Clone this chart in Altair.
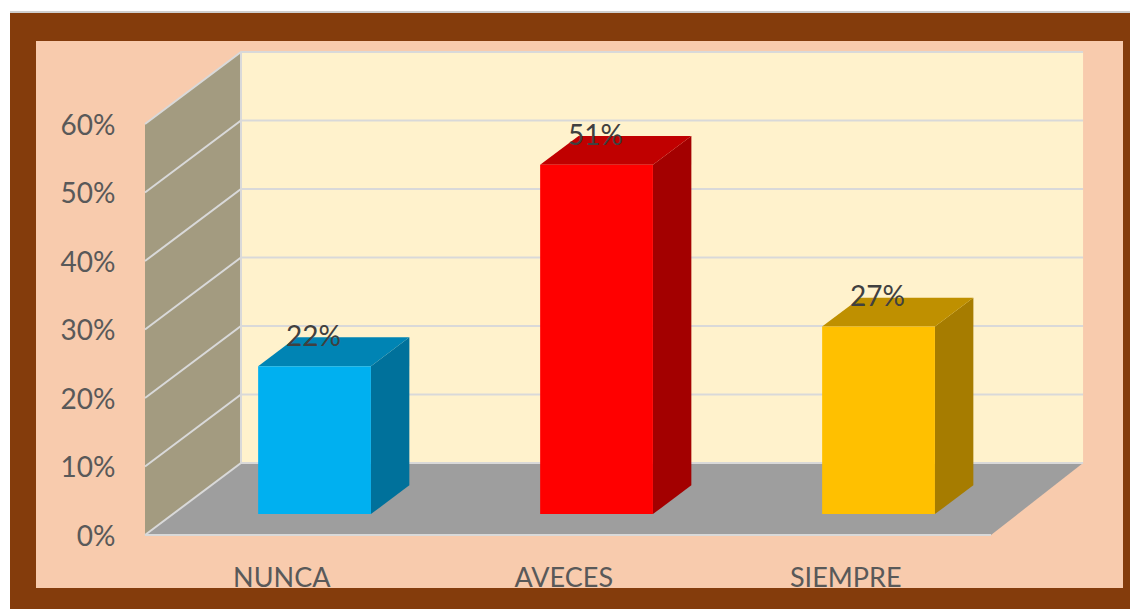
import altair as alt
import pandas as pd

categories = ["NUNCA", "AVECES", "SIEMPRE"]
values = [0.216, 0.51, 0.274]
front_colors = ["#00b0f0", "#ff0000", "#ffc000"]
side_colors = ["#00719b", "#a30000", "#a67c00"]
top_colors = ["#0084b4", "#c00000", "#bf9000"]
ticks = [0, 0.1, 0.2, 0.3, 0.4, 0.5, 0.6]

FONT = "Lato"
W, H = 1120, 601
X0, Y0 = 10, 8                     # plot origin on the page
DX, DY = 96 / 282, 72 / 685        # oblique projection of full depth, in scale units
BACK_W = 2.986                     # slightly narrower back wall
BAR_W, NEAR, FAR = 0.40, 0.29, 0.69
N = len(categories)
MAXV = ticks[-1]

xs = alt.Scale(domain=[0, 3], range=[145 - X0, 991 - X0], nice=False, zero=False)
ys = alt.Scale(domain=[0, MAXV], range=[535 - Y0, 124 - Y0], nice=False, zero=False)
y_axis = alt.Axis(
    values=ticks, format=".0%", title=None, domain=False, ticks=False, grid=False,
    labelFont=FONT, labelFontSize=28, labelColor="#595959", labelPadding=0, labelOffset=2,
    offset=-105, zindex=1)
X = lambda f="x": alt.X(f + ":Q", scale=xs, axis=None)
Y = lambda f="y": alt.Y(f + ":Q", scale=ys, axis=y_axis)
one = pd.DataFrame({"a": [0]})


def frame(x1, x2, y1, y2, color):
    return alt.Chart(one).mark_rect(color=color).encode(
        x=alt.value(x1 - X0), x2=alt.value(x2 - X0),
        y=alt.value(y1 - Y0), y2=alt.value(y2 - Y0))


outer_edge = frame(10, 1138, 11, 609, "#cfcfcf")
outer = frame(10, 1138, 13, 609, "#843c0c")
inner = frame(36, 1123, 41, 588, "#f8cbad")

back_wall = alt.Chart(pd.DataFrame({"x": [DX], "x2": [BACK_W + DX], "y": [DY], "y2": [MAXV + DY]})).mark_rect(
    color="#fff2cc").encode(x=X(), x2="x2:Q", y=Y(), y2="y2:Q")

left_wall = alt.Chart(pd.DataFrame({"x": [0, DX], "y": [0, DY], "y2": [MAXV, MAXV + DY]})).mark_area(
    color="#a39b80").encode(x=X(), y=Y(), y2="y2:Q")

floor = alt.Chart(pd.DataFrame({"y": [0, DY], "x": [0, DX], "x2": [N, BACK_W + DX]})).mark_area(
    color="#9e9e9e", orient="horizontal").encode(y=Y(), x=X(), x2="x2:Q")

grid_rows = []
for t in ticks:
    for order, (gx, gy) in enumerate([(0, t), (DX, t + DY), (BACK_W + DX, t + DY)]):
        grid_rows.append({"g": f"t{t}", "o": order, "x": gx, "y": gy})
for order, (gx, gy) in enumerate([(DX, DY), (DX, MAXV + DY)]):
    grid_rows.append({"g": "edge", "o": order, "x": gx, "y": gy})
for order, (gx, gy) in enumerate([(0, 0), (N, 0)]):
    grid_rows.append({"g": "front", "o": order, "x": gx, "y": gy})
grid = alt.Chart(pd.DataFrame(grid_rows)).mark_line(color="#d9d9d9", strokeWidth=2).encode(
    x=X(), y=Y(), detail="g:N", order="o:Q")

front_rows, side_rows, top_rows, label_rows = [], [], [], []
for i, (cat, v) in enumerate(zip(categories, values)):
    xl = i + 0.5025 - BAR_W / 2 + NEAR * DX
    xr = xl + BAR_W
    base, top = NEAR * DY, v + NEAR * DY
    d = FAR - NEAR
    front_rows.append({"x": xl, "x2": xr, "y": base, "y2": top, "c": front_colors[i]})
    for t in (0, d):
        side_rows.append({"x": xr + t * DX, "y": base + t * DY, "y2": top + t * DY, "c": side_colors[i]})
        top_rows.append({"y": top + t * DY, "x": xl + t * DX, "x2": xr + t * DX, "c": top_colors[i]})
    label_rows.append({"x": (xl + xr) / 2, "y": top, "v": v})

colour = alt.Color("c:N", scale=None, legend=None)
fronts = alt.Chart(pd.DataFrame(front_rows)).mark_rect().encode(x=X(), x2="x2:Q", y=Y(), y2="y2:Q", color=colour)
sides = alt.Chart(pd.DataFrame(side_rows)).mark_area().encode(x=X(), y=Y(), y2="y2:Q", color=colour)
tops = alt.Chart(pd.DataFrame(top_rows)).mark_area(orient="horizontal").encode(y=Y(), x=X(), x2="x2:Q", color=colour)

labels = alt.Chart(pd.DataFrame(label_rows)).mark_text(
    font=FONT, fontSize=28, color="#404040", baseline="middle", dy=-28, dx=-1).encode(
    x=X(), y=Y(), text=alt.Text("v:Q", format=".0%"))

cat_labels = alt.Chart(pd.DataFrame({"x": [i + 0.485 for i in range(N)], "t": categories})).mark_text(
    font=FONT, fontSize=27, color="#595959", baseline="alphabetic").encode(
    x=X(), y=alt.value(587 - Y0), text="t:N")

chart = alt.layer(
    outer_edge, outer, inner, back_wall, left_wall, floor, grid, sides, tops, fronts, labels, cat_labels
).properties(
    width=W, height=H, padding={"left": 2, "top": 0, "right": 0, "bottom": 0},
    autosize=alt.AutoSizeParams(type="none"), background="white"
).configure_view(stroke=None)

chart.save("out.html", embed_options={"renderer": "svg", "actions": False})
